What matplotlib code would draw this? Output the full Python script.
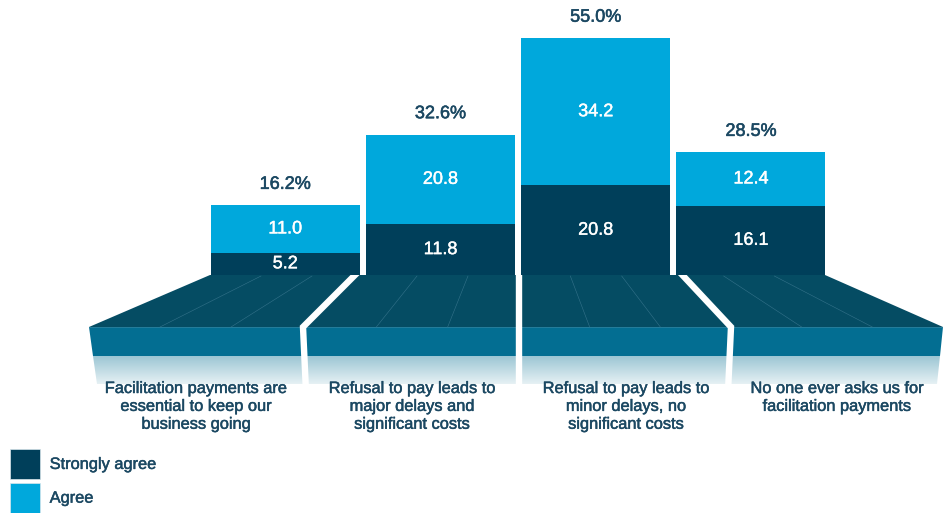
import numpy as np
import matplotlib.pyplot as plt
import matplotlib.patheffects as pe
from matplotlib.patches import Polygon, Patch
from matplotlib.colors import LinearSegmentedColormap

plt.rcParams['font.family'] = ['Liberation Sans', 'DejaVu Sans']

categories = [
    "Facilitation payments are\nessential to keep our\nbusiness going",
    "Refusal to pay leads to\nmajor delays and\nsignificant costs",
    "Refusal to pay leads to\nminor delays, no\nsignificant costs",
    "No one ever asks us for\nfacilitation payments",
]
strongly_agree = [5.2, 11.8, 20.8, 16.1]
agree = [11.0, 20.8, 34.2, 12.4]
totals = [16.2, 32.6, 55.0, 28.5]

DARK = '#003f5a'
LIGHT = '#00a8dc'
TEXT = '#1b4862'
FLOOR_TOP = '#054c63'
FLOOR_FRONT = '#036e92'

W, H = 943, 513
fig = plt.figure(figsize=(W / 100, H / 100), dpi=100)


def thick(color, w=0.35):
    return [pe.withStroke(linewidth=w, foreground=color)]


# background axes in pixel coordinates for the "floor"
ax0 = fig.add_axes([0, 0, 1, 1])
ax0.set_xlim(0, W)
ax0.set_ylim(H, 0)
ax0.axis('off')

top_surface = [(210, 275), (825, 275), (943, 327), (89, 327)]
front_face = [(89, 327), (943, 327), (940, 356), (93, 356)]
fade_face = [(93, 356), (940, 356), (937, 384), (97, 384)]
ax0.add_patch(Polygon(top_surface, closed=True, fc=FLOOR_TOP, ec='none'))
ax0.add_patch(Polygon(front_face, closed=True, fc=FLOOR_FRONT, ec='none'))
ax0.plot([89, 943], [327, 327], color='#2b7f9c', lw=0.6)

fade = LinearSegmentedColormap.from_list('fade', ['#9cc6d4', '#e6f1f4'])
im = ax0.imshow(np.linspace(0, 1, 100).reshape(-1, 1), cmap=fade, aspect='auto',
                extent=(85, 945, 384, 356), origin='upper', zorder=1)
clip = Polygon(fade_face, closed=True, fc='none', ec='none', transform=ax0.transData)
ax0.add_patch(clip)
im.set_clip_path(clip)

# thin lane lines on the floor, thirds of each section
sections = [((210, 363), (89, 302)), ((366, 519), (305, 519)),
            ((519, 673), (519, 731)), ((673, 825), (731, 943))]
for (t0, t1), (b0, b1) in sections:
    for f in (1 / 3, 2 / 3):
        ax0.plot([t0 + f * (t1 - t0), b0 + f * (b1 - b0)], [276, 327],
                 color='#34728a', lw=0.4, zorder=2)

# white separators between sections
seps = [([365, 303, 306], [265, 327, 392]),
        ([519, 519, 519], [265, 327, 392]),
        ([673, 731, 728], [265, 327, 392])]
for xs, ys in seps:
    ax0.plot(xs, ys, color='white', lw=4.6, solid_joinstyle='miter', zorder=3)

centers_px = [196, 412, 626, 837]
for cx, lab in zip(centers_px, categories):
    ax0.text(cx, 381, lab, ha='center', va='top', fontsize=11.8, color=TEXT,
             linespacing=1.24, path_effects=thick(TEXT))

# bar axes
ax = fig.add_axes([207.5 / W, (H - 275) / H, 621 / W, 258.5 / H])
x = np.arange(len(categories))
ax.bar(x, strongly_agree, width=0.96, color=DARK, label='Strongly agree')
ax.bar(x, agree, width=0.96, bottom=strongly_agree, color=LIGHT, label='Agree')
ax.set_xlim(-0.5, 3.5)
ax.set_ylim(0, 60)
ax.axis('off')

for i in range(len(categories)):
    ax.text(x[i], strongly_agree[i] / 2, f'{strongly_agree[i]:.1f}', ha='center',
            va='center', color='white', fontsize=13, path_effects=thick('white', 0.3))
    ax.text(x[i], strongly_agree[i] + agree[i] / 2, f'{agree[i]:.1f}', ha='center',
            va='center', color='white', fontsize=13, path_effects=thick('white', 0.3))
    ax.annotate(f'{totals[i]:.1f}%', (x[i], totals[i]), xytext=(0, 15),
                textcoords='offset points', ha='center', va='center',
                color=TEXT, fontsize=13, path_effects=thick(TEXT, 0.4))

handles = [Patch(fc=DARK, ec='#d9e6ec', lw=0.5), Patch(fc=LIGHT, ec='#d9e6ec', lw=0.5)]
leg = fig.legend(handles, ['Strongly agree', 'Agree'], loc='upper left',
                 bbox_to_anchor=(10 / W, 1 - 449 / H), frameon=False, fontsize=11.8,
                 handlelength=1.82, handleheight=2.42, labelspacing=0.24,
                 handletextpad=0.6, borderpad=0, borderaxespad=0, labelcolor=TEXT)
for t in leg.get_texts():
    t.set_path_effects(thick(TEXT))

fig.savefig('out.png', dpi=100)
